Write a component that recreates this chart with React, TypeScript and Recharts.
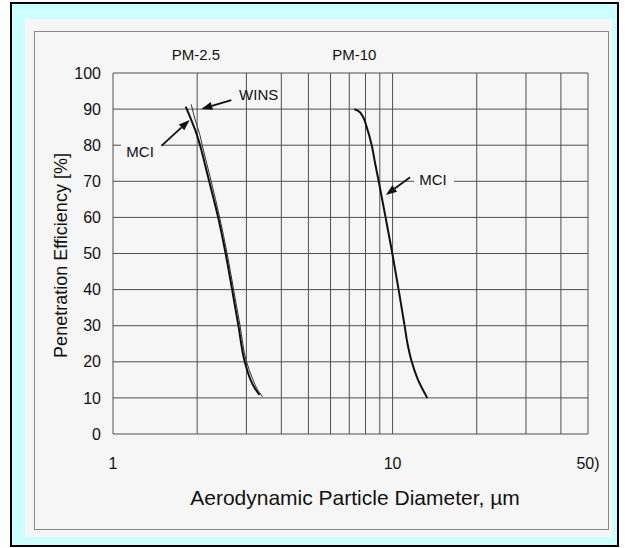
import {
  LineChart,
  Line,
  XAxis,
  YAxis,
  CartesianGrid,
  ReferenceLine,
  ReferenceDot,
  Label,
} from "recharts";

// axis ticks and grid
const xTicks = [1, 10, 50];
const yTicks = [0, 10, 20, 30, 40, 50, 60, 70, 80, 90, 100];
const gridDiameters = [1, 2, 3, 4, 5, 6, 7, 8, 9, 10, 20, 30, 40, 50];

// PM-2.5, MCI
const pm25MciDiameter = [1.82, 1.905, 1.993, 2.048, 2.128, 2.208, 2.377, 2.528, 2.667, 2.809, 2.96, 3.105, 3.196, 3.342];
const pm25MciEff = [90.7, 87, 83, 80, 75, 70, 60, 50, 40, 30, 20, 15, 13, 10.8];

// PM-2.5, WINS
const pm25WinsDiameter = [1.905, 1.968, 2.043, 2.085, 2.163, 2.245, 2.407, 2.56, 2.7, 2.848, 3.004, 3.169, 3.275, 3.426];
const pm25WinsEff = [91.3, 87, 83, 80, 75, 70, 60, 50, 40, 30, 20, 15, 12.5, 10.3];

// PM-10, MCI
const pm10MciDiameter = [7.29, 7.53, 7.82, 8.08, 8.42, 8.66, 8.92, 9.44, 9.98, 10.51, 11.04, 11.31, 11.71, 12.33, 13.31];
const pm10MciEff = [90, 89.5, 88, 85, 80, 75, 70, 60, 50, 40, 30, 25, 20, 15, 10];

// annotations (data coordinates)
const textLabels = [
  { text: "PM-2.5", d: 1.98, eff: 105, box: false },
  { text: "PM-10", d: 7.3, eff: 105, box: false },
  { text: "WINS", d: 3.32, eff: 93.8, box: false },
  { text: "MCI", d: 1.25, eff: 78.0, box: true },
  { text: "MCI", d: 13.95, eff: 70.4, box: true },
];
const arrows = [
  { from: [2.65, 92.5], to: [2.07, 90.0] },
  { from: [1.49, 79.8], to: [1.88, 87.0] },
  { from: [11.55, 71.1], to: [9.46, 66.2] },
];

const toPoints = (d: number[], e: number[]) => d.map((v, i) => ({ d: v, eff: e[i] }));

const pm25Mci = toPoints(pm25MciDiameter, pm25MciEff);
const pm25Wins = toPoints(pm25WinsDiameter, pm25WinsEff);
const pm10Mci = toPoints(pm10MciDiameter, pm10MciEff);

const FONT = "'Liberation Sans', Arial, sans-serif";
const INK = "#111";
const GRID = "#505050";

const ArrowShape = (p: any) => {
  const { x1, y1, x2, y2 } = p;
  const a = Math.atan2(y2 - y1, x2 - x1);
  const L = 11;
  const W = 4;
  const bx = x2 - L * Math.cos(a);
  const by = y2 - L * Math.sin(a);
  const pts = [
    `${x2},${y2}`,
    `${bx + W * Math.sin(a)},${by - W * Math.cos(a)}`,
    `${bx - W * Math.sin(a)},${by + W * Math.cos(a)}`,
  ].join(" ");
  return (
    <g>
      <line x1={x1} y1={y1} x2={bx} y2={by} stroke={INK} strokeWidth={1.8} />
      <polygon points={pts} fill={INK} />
    </g>
  );
};

const makeTextShape = (text: string, box: boolean) => (p: any) => {
  const { cx, cy } = p;
  return (
    <g>
      {box && <rect x={cx - 19} y={cy - 15} width={40} height={26} fill="#f6f6f6" />}
      <text
        x={cx}
        y={cy + 5}
        textAnchor="middle"
        fontFamily={FONT}
        fontSize={15}
        fill={INK}
      >
        {text}
      </text>
    </g>
  );
};

export default function App() {
  return (
    <div style={{ position: "absolute", left: 0, top: 0, width: 625, height: 548, background: "#fff" }}>
      <div
        style={{
          position: "absolute",
          left: 10,
          top: 2,
          width: 605,
          height: 541,
          border: "2px solid #000",
          background: "#ccffff",
        }}
      />
      <div
        style={{
          position: "absolute",
          left: 25,
          top: 19,
          width: 587,
          height: 518,
          background: "#f6f6f6",
        }}
      />
      <div
        style={{
          position: "absolute",
          left: 34,
          top: 31,
          width: 573,
          height: 497,
          border: "1px solid #888",
        }}
      />
      <div style={{ position: "absolute", left: 0, top: 0 }}>
        <LineChart width={625} height={548} margin={{ top: 73, right: 37, left: 0, bottom: 0 }}>
          <CartesianGrid vertical={false} stroke={GRID} strokeWidth={1} />
          {gridDiameters.map((g) => (
            <ReferenceLine key={g} x={g} stroke={GRID} strokeWidth={1} />
          ))}
          <XAxis
            type="number"
            dataKey="d"
            scale="log"
            domain={[1, 50]}
            ticks={xTicks}
            allowDataOverflow
            axisLine={false}
            tickLine={false}
            tickSize={0}
            tickMargin={24}
            height={114}
            tick={{ fontFamily: FONT, fontSize: 16, fill: INK }}
            tickFormatter={(v: number) => (v === 50 ? "50)" : String(v))}
          >
            <Label
              content={() => (
                <text
                  x={355}
                  y={505}
                  textAnchor="middle"
                  fontFamily={FONT}
                  fontSize={21}
                  fill={INK}
                >
                  Aerodynamic Particle Diameter, µm
                </text>
              )}
            />
          </XAxis>
          <YAxis
            type="number"
            domain={[0, 100]}
            ticks={yTicks}
            axisLine={false}
            tickLine={false}
            tickSize={0}
            tickMargin={12}
            width={113}
            tick={{ fontFamily: FONT, fontSize: 16, fill: INK }}
          >
            <Label
              content={(props: any) => {
                const vb = props.viewBox || { y: 73, height: 361 };
                const cy = vb.y + vb.height / 2 + 2;
                return (
                  <text
                    x={67}
                    y={cy}
                    transform={`rotate(-90, 67, ${cy})`}
                    textAnchor="middle"
                    fontFamily={FONT}
                    fontSize={18}
                    fill={INK}
                  >
                    Penetration Efficiency [%]
                  </text>
                );
              }}
            />
          </YAxis>
          <Line
            data={pm25Wins}
            dataKey="eff"
            type="monotoneY"
            stroke="#333"
            strokeWidth={1}
            dot={false}
            isAnimationActive={false}
          />
          <Line
            data={pm25Mci}
            dataKey="eff"
            type="monotoneY"
            stroke={INK}
            strokeWidth={2}
            dot={false}
            isAnimationActive={false}
          />
          <Line
            data={pm10Mci}
            dataKey="eff"
            type="monotoneY"
            stroke={INK}
            strokeWidth={2}
            dot={false}
            isAnimationActive={false}
          />
          {arrows.map((a, i) => (
            <ReferenceLine
              key={`arrow-${i}`}
              segment={[
                { x: a.from[0], y: a.from[1] },
                { x: a.to[0], y: a.to[1] },
              ]}
              ifOverflow="visible"
              shape={ArrowShape}
            />
          ))}
          {textLabels.map((t, i) => (
            <ReferenceDot
              key={`label-${i}`}
              x={t.d}
              y={t.eff}
              r={0}
              ifOverflow="visible"
              shape={makeTextShape(t.text, t.box)}
            />
          ))}
        </LineChart>
      </div>
    </div>
  );
}
